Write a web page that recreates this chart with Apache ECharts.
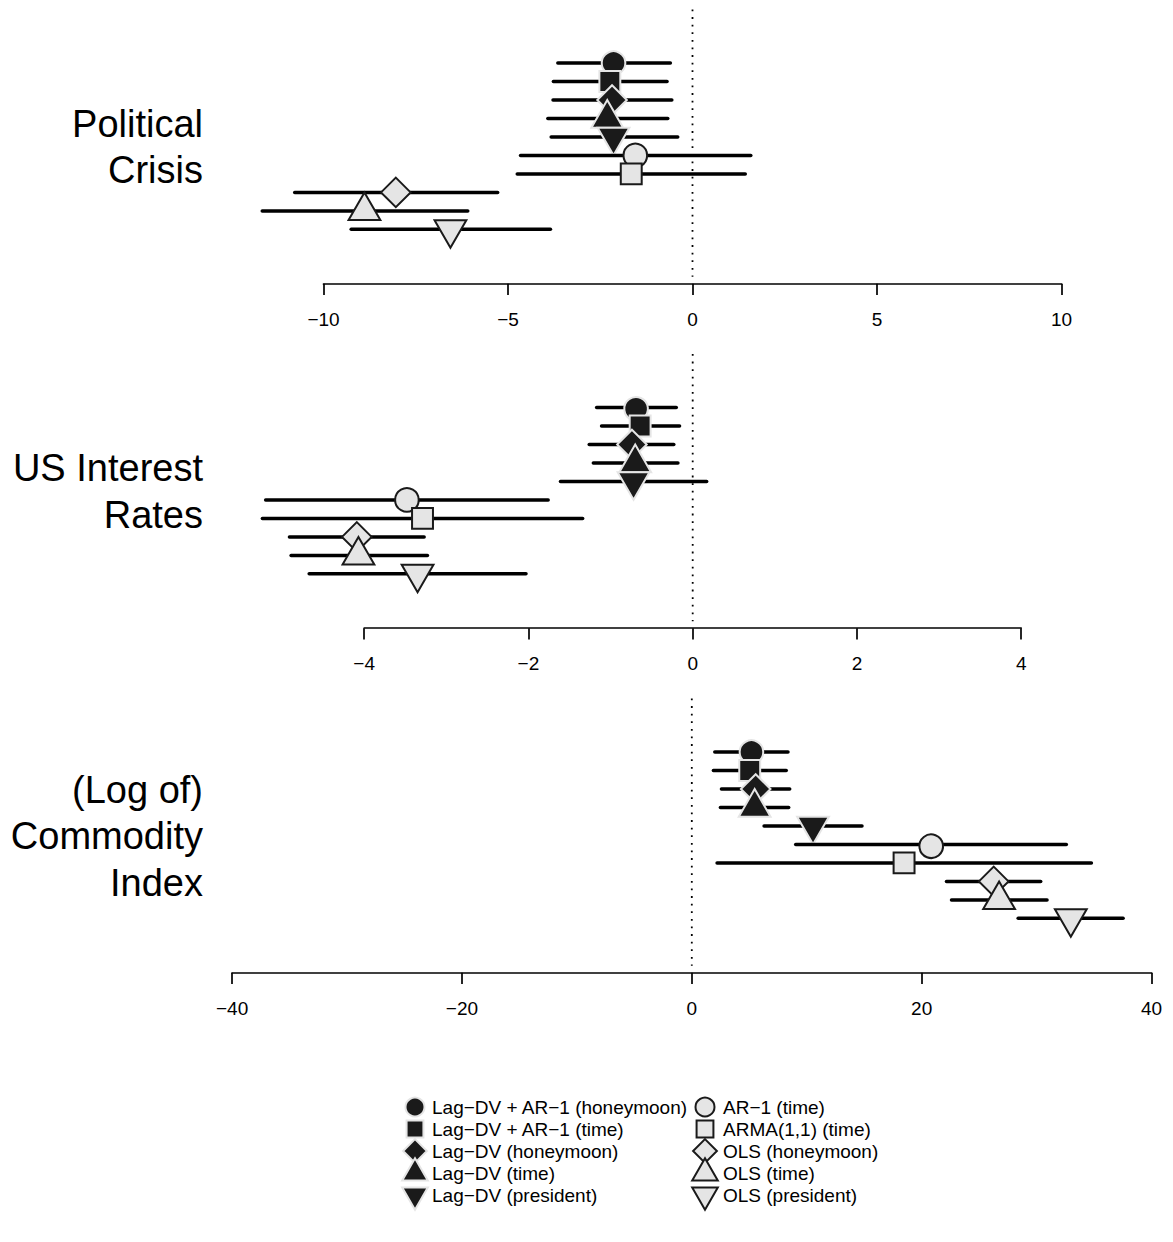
<!DOCTYPE html>
<html><head><meta charset="utf-8">
<script src="https://cdn.jsdelivr.net/npm/echarts@6/dist/echarts.min.js"></script>
<style>html,body{margin:0;padding:0;background:#fff}#chart{width:1173px;height:1242px}</style>
</head><body><div id="chart"></div>
<script>
// ---------------- data ----------------
const models = [
  'Lag\u2212DV + AR\u22121 (honeymoon)',
  'Lag\u2212DV + AR\u22121 (time)',
  'Lag\u2212DV (honeymoon)',
  'Lag\u2212DV (time)',
  'Lag\u2212DV (president)',
  'AR\u22121 (time)',
  'ARMA(1,1) (time)',
  'OLS (honeymoon)',
  'OLS (time)',
  'OLS (president)'
];
const panelTitles = ['Political\nCrisis', 'US Interest\nRates', '(Log of)\nCommodity\nIndex'];

const crisisEst = [-2.14, -2.24, -2.18, -2.31, -2.14, -1.55, -1.66, -8.04, -8.89, -6.56];
const crisisLo  = [-3.65, -3.77, -3.78, -3.92, -3.83, -4.66, -4.75, -10.78, -11.66, -9.25];
const crisisHi  = [-0.60, -0.69, -0.56, -0.67, -0.40, 1.58, 1.43, -5.28, -6.09, -3.85];

const ratesEst = [-0.69, -0.64, -0.74, -0.70, -0.72, -3.48, -3.29, -4.09, -4.07, -3.35];
const ratesLo  = [-1.17, -1.11, -1.26, -1.21, -1.61, -5.20, -5.24, -4.91, -4.89, -4.67];
const ratesHi  = [-0.20, -0.16, -0.23, -0.18, 0.17, -1.76, -1.34, -3.27, -3.23, -2.03];

const commodityEst = [5.19, 5.04, 5.56, 5.47, 10.55, 20.82, 18.47, 26.27, 26.74, 32.98];
const commodityLo  = [2.00, 1.88, 2.58, 2.49, 6.29, 9.04, 2.20, 22.16, 22.60, 28.40];
const commodityHi  = [8.37, 8.22, 8.52, 8.43, 14.81, 32.59, 34.77, 30.36, 30.91, 37.53];

const crisisTicks = [-10, -5, 0, 5, 10];
const ratesTicks = [-4, -2, 0, 2, 4];
const commodityTicks = [-40, -20, 0, 20, 40];

// ---------------- style ----------------
const markerShapes = ['circle','square','diamond','triUp','triDown','circle','square','diamond','triUp','triDown'];
const markerDark = [true, true, true, true, true, false, false, false, false, false];
const DARK = '#1a1a1a', LIGHT = '#e5e5e5';
const FONT = '"Liberation Sans", Arial, Helvetica, sans-serif';

const panels = [
  {est: crisisEst, lo: crisisLo, hi: crisisHi, ticks: crisisTicks, left: 323.5, right: 111.5},
  {est: ratesEst, lo: ratesLo, hi: ratesHi, ticks: ratesTicks, left: 364.2, right: 151.8},
  {est: commodityEst, lo: commodityLo, hi: commodityHi, ticks: commodityTicks, left: 232.1, right: 21.5}
];
const STEP = 344.5, TOP0 = 9.5, GRID_H = 274.2;
const YMIN = -1.895, YMAX = 12.94, DOT_END = 12.56;

function makeMarker(shape, x, y, R, dark) {
  const style = {fill: dark ? DARK : LIGHT, stroke: dark ? LIGHT : DARK, lineWidth: 2};
  if (shape === 'circle') return {type: 'circle', shape: {cx: x, cy: y, r: R}, style};
  if (shape === 'square') { const h = R * 0.8862; return {type: 'rect', shape: {x: x - h, y: y - h, width: 2 * h, height: 2 * h}, style}; }
  if (shape === 'diamond') { const d = R * 1.2533; return {type: 'polygon', shape: {points: [[x, y - d], [x + d, y], [x, y + d], [x - d, y]]}, style}; }
  const r = 1.5551 * R, yc = 0.7776 * R, xc = 1.3468 * R;
  if (shape === 'triUp') return {type: 'polygon', shape: {points: [[x, y - r], [x + xc, y + yc], [x - xc, y + yc]]}, style};
  return {type: 'polygon', shape: {points: [[x, y + r], [x + xc, y - yc], [x - xc, y - yc]]}, style};
}

function fmt(v) { return v < 0 ? '\u2212' + Math.abs(v) : String(v); }

const grids = [], xAxes = [], yAxes = [], series = [], graphics = [];
panels.forEach((p, k) => {
  grids.push({left: p.left, right: p.right, top: TOP0 + STEP * k, height: GRID_H, containLabel: false});
  const t = p.ticks;
  xAxes.push({
    type: 'value', gridIndex: k, min: t[0], max: t[t.length - 1], interval: t[1] - t[0],
    splitLine: {show: false},
    axisLine: {show: true, onZero: false, lineStyle: {color: '#000', width: 1.7}},
    axisTick: {show: true, length: 11.3, lineStyle: {color: '#000', width: 1.7}},
    axisLabel: {color: '#000', fontSize: 19, fontFamily: FONT, margin: 26, formatter: fmt, showMinLabel: true, showMaxLabel: true}
  });
  yAxes.push({type: 'value', gridIndex: k, min: YMIN, max: YMAX, inverse: true, show: false});
  // reference line at zero
  series.push({
    type: 'line', xAxisIndex: k, yAxisIndex: k, data: [[0, YMIN], [0, DOT_END]],
    showSymbol: false, symbol: 'none', silent: true, z: 1,
    lineStyle: {color: '#000', width: 1.8, type: [1.8, 5.8]}
  });
  const data = models.map((m, i) => [p.lo[i], p.hi[i], p.est[i], i + 1, i]);
  series.push({
    type: 'custom', xAxisIndex: k, yAxisIndex: k, clip: false, z: 2,
    encode: {x: [0, 1, 2], y: 3},
    data,
    renderItem: function (params, api) {
      const row = api.value(3), idx = api.value(4);
      const a = api.coord([api.value(0), row]);
      const b = api.coord([api.value(1), row]);
      const c = api.coord([api.value(2), row]);
      return {
        type: 'group',
        children: [
          {type: 'line', shape: {x1: a[0], y1: a[1], x2: b[0], y2: b[1]}, style: {stroke: '#000', lineWidth: 3.5, lineCap: 'round'}},
          makeMarker(markerShapes[idx], c[0], c[1], 11.8, markerDark[idx])
        ]
      };
    }
  });
  graphics.push({
    type: 'text', x: 203, y: 147 + STEP * k,
    style: {text: panelTitles[k], font: '38px ' + FONT, fill: '#000', align: 'right', verticalAlign: 'middle', lineHeight: 46.5}
  });
});

// legend
const LEG_SYM_X = [415, 705], LEG_TXT_X = [432, 723], LEG_Y0 = 1107, LEG_DY = 22;
models.forEach((m, i) => {
  const col = i < 5 ? 0 : 1, row = i % 5;
  const y = LEG_Y0 + LEG_DY * row;
  graphics.push(makeMarker(markerShapes[i], LEG_SYM_X[col], y, 9.5, markerDark[i]));
  graphics.push({type: 'text', x: LEG_TXT_X[col], y: y,
    style: {text: m, font: '19px ' + FONT, fill: '#000', align: 'left', verticalAlign: 'middle'}});
});

const chart = echarts.init(document.getElementById('chart'), null, {renderer: 'svg'});
chart.setOption({
  animation: false,
  backgroundColor: '#fff',
  grid: grids, xAxis: xAxes, yAxis: yAxes, series,
  graphic: graphics
});
</script></body></html>
